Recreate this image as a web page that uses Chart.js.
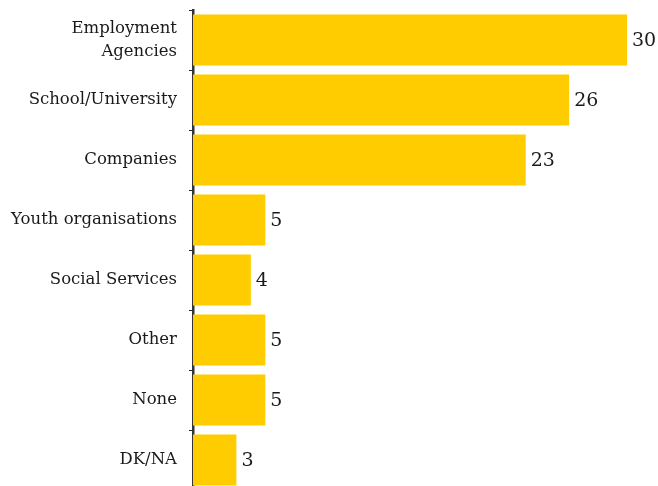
<!DOCTYPE html>
<html>
<head>
<meta charset="utf-8">
<script src="https://cdn.jsdelivr.net/npm/chart.js@4/dist/chart.umd.min.js"></script>
<style>
  html, body { margin: 0; padding: 0; overflow: hidden; background: #fff; }
  #wrap { position: relative; width: 658px; height: 490px; }
</style>
</head>
<body>
<div id="wrap"><canvas id="chart"></canvas></div>
<script>
// Support channels named by respondents (%)
const categories = [
  ['Employment', 'Agencies'],
  'School/University',
  'Companies',
  'Youth organisations',
  'Social Services',
  'Other',
  'None',
  'DK/NA'
];
const values = [30, 26, 23, 5, 4, 5, 5, 3];

const BAR_COLOR = '#FFCC00';
const TEXT_COLOR = '#1a1a1a';
const SERIF = '"DejaVu Serif", "Liberation Serif", serif';

// Writes each bar's value just past its end
const valueLabels = {
  id: 'valueLabels',
  afterDatasetsDraw(chart) {
    const ctx = chart.ctx;
    const meta = chart.getDatasetMeta(0);
    ctx.save();
    ctx.font = '19px ' + SERIF;
    ctx.fillStyle = TEXT_COLOR;
    ctx.textAlign = 'left';
    ctx.textBaseline = 'middle';
    meta.data.forEach((bar, i) => {
      ctx.fillText(String(values[i]), bar.x + 5, bar.y + 1);
    });
    ctx.restore();
  }
};

new Chart(document.getElementById('chart'), {
  type: 'bar',
  data: {
    labels: categories,
    datasets: [{
      data: values,
      backgroundColor: BAR_COLOR,
      borderWidth: 0,
      categoryPercentage: 1,
      barPercentage: 0.85
    }]
  },
  options: {
    indexAxis: 'y',
    responsive: true,
    maintainAspectRatio: false,
    animation: false,
    layout: { padding: { top: 10, right: 31, bottom: 0, left: 0 } },
    plugins: {
      legend: { display: false },
      tooltip: { enabled: false }
    },
    scales: {
      x: {
        display: false,
        min: 0,
        max: 30
      },
      y: {
        z: 1,
        afterFit(scale) {
          scale.width = 193;
          scale.paddingTop = 0;
          scale.paddingBottom = 0;
        },
        grid: {
          offset: true,
          drawOnChartArea: false,
          drawTicks: true,
          tickLength: 4,
          tickWidth: 1,
          color: '#222'
        },
        border: { display: true, color: '#333', width: 2.5 },
        ticks: {
          color: TEXT_COLOR,
          padding: 12,
          font: { family: SERIF, size: 16.5, lineHeight: 1.4 }
        }
      }
    }
  },
  plugins: [valueLabels]
});
</script>
</body>
</html>
